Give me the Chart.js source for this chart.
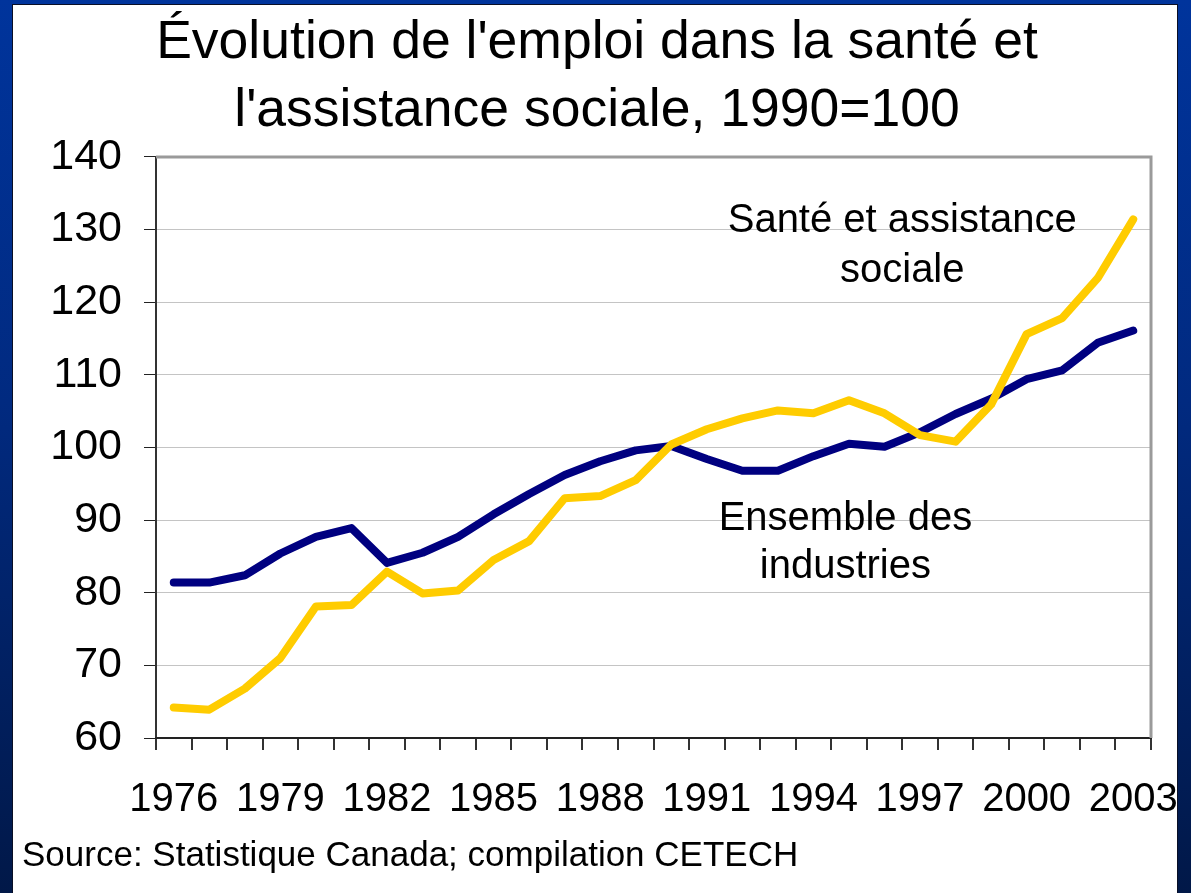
<!DOCTYPE html>
<html lang="fr">
<head>
<meta charset="utf-8">
<title>Emploi santé et assistance sociale</title>
<script src="https://cdn.jsdelivr.net/npm/chart.js@4.4.1/dist/chart.umd.min.js"></script>
<style>
    html, body {
        margin: 0;
        padding: 0;
    }
    body {
        width: 1191px;
        height: 893px;
        overflow: hidden;
        background: linear-gradient(180deg, #00349c 0%, #012a80 45%, #011848 100%);
        position: relative;
    }
    .panneau {
        position: absolute;
        left: 13px;
        top: 5px;
        width: 1164px;
        height: 888px;
        background: #fff;
        box-shadow: 0 0 0 1px #0a0f25;
    }
</style>
</head>
<body>
<div class="panneau">
    <canvas id="graficoEmploi"></canvas>
</div>
<script>
    const annees = ['1976', '1977', '1978', '1979', '1980', '1981', '1982', '1983', '1984', '1985',
        '1986', '1987', '1988', '1989', '1990', '1991', '1992', '1993', '1994', '1995',
        '1996', '1997', '1998', '1999', '2000', '2001', '2002', '2003'];

    const ensembleIndustries = [81.4, 81.4, 82.4, 85.4, 87.7, 88.9, 84.1, 85.5, 87.7, 90.8,
        93.6, 96.2, 98.1, 99.6, 100.2, 98.4, 96.8, 96.8, 98.8, 100.5,
        100.1, 102.1, 104.6, 106.7, 109.4, 110.6, 114.4, 116.1];

    const santeAssistance = [64.2, 63.9, 66.8, 71.0, 78.1, 78.3, 82.9, 79.9, 80.3, 84.5,
        87.1, 93.0, 93.3, 95.5, 100.4, 102.5, 104.0, 105.1, 104.7, 106.5,
        104.7, 101.7, 100.8, 105.9, 115.6, 117.8, 123.3, 131.4];

    const ticksY = [60, 70, 80, 90, 100, 110, 120, 130, 140];

    const police = "'Liberation Sans', Arial, Helvetica, sans-serif";

    // étiquettes posées dans le graphique (année, valeur, lignes)
    const etiquettes = [
        { annee: 20.5, valeur: 129.7, lignes: ['Santé et assistance', 'sociale'], ecart: 50 },
        { annee: 18.9, valeur: 88.6, lignes: ['Ensemble des', 'industries'], ecart: 48 }
    ];

    const cadre = {
        id: 'cadre',
        afterDatasetsDraw(chart) {
            const { ctx, chartArea } = chart;
            ctx.save();
            ctx.strokeStyle = '#9a9a9a';
            ctx.lineWidth = 3;
            ctx.beginPath();
            ctx.moveTo(chartArea.left, chartArea.top);
            ctx.lineTo(chartArea.right, chartArea.top);
            ctx.lineTo(chartArea.right, chartArea.bottom);
            ctx.stroke();
            ctx.restore();
        },
        afterDraw(chart) {
            const { ctx, scales } = chart;
            ctx.save();
            ctx.fillStyle = '#000';
            ctx.font = '40px ' + police;
            ctx.textAlign = 'center';
            ctx.textBaseline = 'alphabetic';
            etiquettes.forEach(e => {
                const x = scales.x.getPixelForValue(e.annee);
                const y = scales.y.getPixelForValue(e.valeur);
                e.lignes.forEach((t, i) => ctx.fillText(t, x, y + i * e.ecart));
            });
            ctx.restore();
        }
    };

    const emploi = document.getElementById('graficoEmploi');

    new Chart(emploi, {
        type: 'line',
        data: {
            labels: annees,
            datasets: [{
                label: 'Ensemble des industries',
                data: ensembleIndustries,
                borderWidth: 8,
                borderColor: '#000080',
                backgroundColor: '#000080',
                pointRadius: 0,
                tension: 0,
                borderJoinStyle: 'round',
                borderCapStyle: 'round',
                fill: false,
                order: 2
            },
            {
                label: 'Santé et assistance sociale',
                data: santeAssistance,
                borderWidth: 8,
                borderColor: '#FFCC00',
                backgroundColor: '#FFCC00',
                pointRadius: 0,
                tension: 0,
                borderJoinStyle: 'round',
                borderCapStyle: 'round',
                fill: false,
                order: 1
            }]
        },
        options: {
            responsive: true,
            maintainAspectRatio: false,
            animation: false,
            layout: {
                padding: { left: 9, right: 5, top: 0, bottom: 10 }
            },
            plugins: {
                legend: {
                    display: false
                },
                tooltip: {
                    enabled: false
                },
                title: {
                    display: true,
                    text: ["Évolution de l'emploi dans la santé et", "l'assistance sociale, 1990=100"],
                    color: '#000',
                    font: { family: police, size: 53.5, weight: 'normal', lineHeight: 1.27 },
                    padding: { top: 4, bottom: 12 }
                },
                subtitle: {
                    display: true,
                    position: 'bottom',
                    align: 'start',
                    text: 'Source: Statistique Canada; compilation CETECH',
                    color: '#000',
                    font: { family: police, size: 35, weight: 'normal', lineHeight: 1.2 },
                    padding: { top: 11, bottom: 6 }
                }
            },
            scales: {
                y: {
                    min: 60,
                    max: 140,
                    afterFit(scale) {
                        scale.width = 134;
                    },
                    afterBuildTicks(scale) {
                        scale.ticks = ticksY.map(v => ({ value: v }));
                    },
                    grid: {
                        color: '#c4c4c4',
                        lineWidth: 1,
                        tickColor: '#222',
                        tickLength: 12,
                        drawTicks: true
                    },
                    border: {
                        color: '#333',
                        width: 2
                    },
                    ticks: {
                        padding: 22,
                        color: '#000',
                        font: { family: police, size: 43 }
                    }
                },
                x: {
                    offset: true,
                    afterFit(scale) {
                        scale.height = 86;
                        scale.paddingLeft = 0;
                        scale.paddingRight = 26;
                    },
                    grid: {
                        offset: true,
                        drawOnChartArea: false,
                        tickColor: '#333',
                        tickLength: 12,
                        lineWidth: 2
                    },
                    border: {
                        color: '#222',
                        width: 2
                    },
                    ticks: {
                        padding: 26,
                        color: '#000',
                        autoSkip: false,
                        maxRotation: 0,
                        font: { family: police, size: 40 },
                        callback: function (value, index) {
                            return index % 3 === 0 ? annees[index] : '';
                        }
                    }
                }
            }
        },
        plugins: [cadre]
    });
</script>
</body>
</html>
